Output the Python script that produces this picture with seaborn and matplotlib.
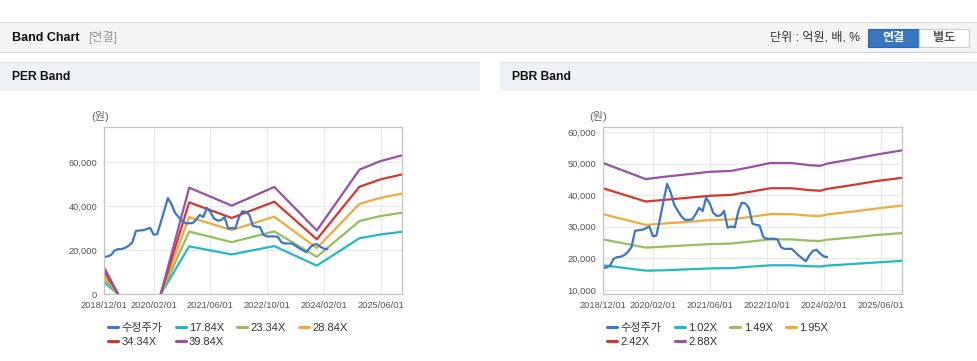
import matplotlib
matplotlib.use('Agg')
import matplotlib.pyplot as plt
import matplotlib.ticker as mticker
from matplotlib.patches import Rectangle
from matplotlib.lines import Line2D
import pandas as pd
import seaborn as sns

W, H = 978, 361

# adjusted share price (수정주가), monthly from 2018/12
price_dates = pd.date_range('2018-12-01', periods=64, freq='MS')
price = [16900, 17100, 17800, 19800, 20400, 20500, 21000, 22000, 23500, 28700,
         28900, 29000, 29500, 30100, 27000, 27200, 32500, 38000, 43600, 41000,
         37000, 35000, 33300, 32200, 32200, 32300, 34000, 36000, 35000, 39200,
         37400, 34400, 33400, 33600, 35000, 29700, 30100, 29800, 35000, 37600,
         37400, 36000, 31000, 30600, 30400, 26800, 26200, 26200, 26200, 26000,
         23500, 23000, 23000, 23000, 22000, 20900, 20000, 19100, 21000, 22400,
         22700, 21500, 20600, 20400]

# PER band (line breaks while EPS is negative)
per_dates = ['2018-12-01', '2019-04-01', '2020-04-01', '2020-12-01', '2021-12-01',
             '2022-12-01', '2023-12-01', '2024-12-01', '2025-06-01', '2025-12-01']
per_seg = [0, 0, 1, 1, 1, 1, 1, 1, 1, 1]
per_labels = ['17.84X', '23.34X', '28.84X', '34.34X', '39.84X']
per_1784 = [5400, 0, 0, 21700, 18000, 21800, 12900, 25400, 27100, 28300]
per_2334 = [7100, 0, 0, 28400, 23600, 28500, 16900, 33200, 35500, 37000]
per_2884 = [8800, 0, 0, 35000, 29100, 35200, 20900, 41000, 43800, 45700]
per_3434 = [10500, 0, 0, 41700, 34600, 42000, 24900, 48800, 52200, 54400]
per_3984 = [12200, 0, 0, 48400, 40200, 48700, 28900, 56600, 60500, 63100]

# PBR band
pbr_dates = ['2018-12-01', '2019-12-01', '2020-05-01', '2021-06-01', '2021-12-01',
             '2022-06-01', '2022-11-01', '2023-05-01', '2023-10-01', '2024-01-01',
             '2024-03-01', '2024-10-01', '2025-05-01', '2025-12-01']
pbr_seg = [0] * len(pbr_dates)
pbr_labels = ['1.02X', '1.49X', '1.95X', '2.42X', '2.88X']
pbr_102 = [17800, 16100, 16200, 16800, 16900, 17400, 17800, 17800, 17500, 17400, 17700, 18200, 18700, 19200]
pbr_149 = [26000, 23400, 23700, 24500, 24700, 25400, 26000, 26000, 25600, 25500, 25900, 26600, 27400, 28000]
pbr_195 = [34000, 30600, 31000, 32100, 32300, 33200, 34000, 34000, 33500, 33400, 33900, 34800, 35800, 36700]
pbr_242 = [42200, 38000, 38500, 39800, 40100, 41200, 42200, 42200, 41600, 41400, 42000, 43200, 44500, 45500]
pbr_288 = [50200, 45100, 45800, 47400, 47700, 49000, 50200, 50200, 49500, 49300, 50000, 51400, 52900, 54200]

tick_dates = ['2018-12-01', '2020-02-01', '2021-06-01', '2022-10-01', '2024-02-01', '2025-06-01']
tick_labels = ['2018/12/01', '2020/02/01', '2021/06/01', '2022/10/01', '2024/02/01', '2025/06/01']

price_color = '#3a77c7'
band_colors = ['#22b8c8', '#93c05a', '#f4a83c', '#d4382c', '#9a4fa8']

sns.set_style('white')
plt.rcParams['font.family'] = ['Liberation Sans', 'Noto Sans CJK KR']

fig = plt.figure(figsize=(W / 100, H / 100), dpi=100)


def box(x, y, w, h, **kw):
    fig.add_artist(Rectangle((x / W, 1 - (y + h) / H), w / W, h / H,
                             transform=fig.transFigure, **kw))


def text(x, y, s, **kw):
    fig.text(x / W, 1 - y / H, s, va='center', **kw)


# page header
box(0, 22, W, 30, facecolor='#f4f4f4', edgecolor='none')
box(0, 21.5, W, 1.2, facecolor='#dcdcdc', edgecolor='none')
box(0, 51.5, W, 1.5, facecolor='#d0d0d0', edgecolor='none')
text(12, 38, 'Band Chart', fontsize=9, fontweight='bold', color='#111')
text(88, 38, '[연결]', fontsize=8.7, color='#999')
text(770, 38, '단위 : 억원, 배, %', fontsize=8.7, color='#333')
box(868, 29, 51, 18, facecolor='#3677bd', edgecolor='#2d67a8', lw=0.8)
box(919, 29, 50, 18, facecolor='white', edgecolor='#cccccc', lw=0.8)
text(893.5, 38, '연결', fontsize=8.7, fontweight='bold', color='white', ha='center')
text(944, 38, '별도', fontsize=8.7, fontweight='bold', color='#555', ha='center')

# panel headers
for x0, x1, title in [(0, 480, 'PER Band'), (500, 978, 'PBR Band')]:
    box(x0, 62, x1 - x0, 1.6, facecolor='#e2e5ea', edgecolor='none')
    box(x0, 63.5, x1 - x0, 27.5, facecolor='#eef1f6', edgecolor='none')
    text(x0 + 12, 77.5, title, fontsize=8.7, fontweight='bold', color='#111')


def band_frame(dates, labels, series, seg):
    rows = []
    for label, vals in zip(labels, series):
        for d, v, s in zip(dates, vals, seg):
            rows.append((pd.Timestamp(d), v, label, s))
    return pd.DataFrame(rows, columns=['date', 'value', 'band', 'seg'])


def draw_panel(rect, df, labels, ylim, yticks, unit_x, legend_x):
    ax = fig.add_axes(rect)
    sns.lineplot(data=df, x='date', y='value', hue='band', units='seg',
                 estimator=None, palette=dict(zip(labels, band_colors)),
                 linewidth=1.6, legend=False, ax=ax)
    sns.lineplot(x=price_dates, y=price, color=price_color, linewidth=1.6, ax=ax)

    ax.set_xlim(pd.Timestamp('2018-12-01'), pd.Timestamp('2025-12-01'))
    ax.set_ylim(*ylim)
    ax.set_xticks(pd.to_datetime(tick_dates))
    ax.set_xticklabels(tick_labels)
    ax.set_yticks(yticks)
    ax.yaxis.set_major_formatter(mticker.StrMethodFormatter('{x:,.0f}'))
    ax.grid(True, color='#e8e8e8', linewidth=0.8)
    ax.set_axisbelow(True)
    for sp in ax.spines.values():
        sp.set_color('#c4c4c4')
        sp.set_linewidth(0.9)
    ax.tick_params(length=3, width=0.8, color='#c4c4c4', labelsize=6.7,
                   labelcolor='#555', pad=2)
    ax.set_xlabel('')
    ax.set_ylabel('')
    text(unit_x, 116, '(원)', fontsize=8, color='#666', ha='center')

    hs = [Line2D([], [], color=price_color, lw=2.2)] + \
         [Line2D([], [], color=c, lw=2.2) for c in band_colors]
    ls = ['수정주가'] + labels
    order = [0, 4, 1, 5, 2, 3]
    ax.legend([hs[i] for i in order], [ls[i] for i in order], ncol=4,
              loc='upper left', bbox_to_anchor=(legend_x / W, 1 - 323 / H),
              bbox_transform=fig.transFigure, frameon=False, fontsize=8,
              labelcolor='#333', handlelength=0.9, handletextpad=0.3,
              columnspacing=1.2, labelspacing=0.36, borderaxespad=0, borderpad=0)
    return ax


per_df = band_frame(per_dates, per_labels,
                    [per_1784, per_2334, per_2884, per_3434, per_3984], per_seg)
pbr_df = band_frame(pbr_dates, pbr_labels,
                    [pbr_102, pbr_149, pbr_195, pbr_242, pbr_288], pbr_seg)

draw_panel([104 / W, 1 - 294 / H, 298 / W, 167 / H], per_df, per_labels,
           (0, 76000), [0, 20000, 40000, 60000], 100, 108)
draw_panel([603 / W, 1 - 294 / H, 299 / W, 167 / H], pbr_df, pbr_labels,
           (8700, 61600), [10000, 20000, 30000, 40000, 50000, 60000], 598, 607)

fig.savefig('out.png', dpi=100, facecolor='white')
